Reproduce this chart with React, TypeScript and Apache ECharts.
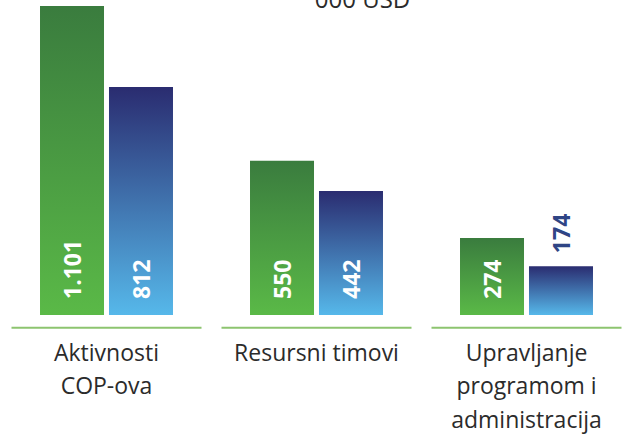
import React, { useEffect, useRef } from "react";
import * as echarts from "echarts";

const categories = ["Aktivnosti\nCOP-ova", "Resursni timovi", "Upravljanje\nprogramom i\nadministracija"];
const greenValues = [1101, 550, 274];
const blueValues = [812, 442, 174];
const unitLabel = "000 USD";

const fmt = (v: number) => v.toLocaleString("de-DE");

export default function App() {
  const ref = useRef<HTMLDivElement>(null);
  useEffect(() => {
    if (!ref.current) return;
    const chart = echarts.init(ref.current, undefined, { renderer: "svg" });
    const greenGrad = new echarts.graphic.LinearGradient(0, 0, 0, 1, [
      { offset: 0, color: "#3a7c3e" },
      { offset: 1, color: "#5ab947" },
    ]);
    const blueGrad = new echarts.graphic.LinearGradient(0, 0, 0, 1, [
      { offset: 0, color: "#2a2c70" },
      { offset: 1, color: "#56b8ea" },
    ]);
    const insideLabel = {
      show: true,
      position: "insideBottom",
      rotate: 90,
      align: "left",
      verticalAlign: "middle",
      distance: 16,
      color: "#ffffff",
      fontFamily: "Open Sans",
      fontWeight: "bold",
      fontSize: 23,
      formatter: (p: any) => fmt(p.value),
    };
    const blueData = blueValues.map((v) => {
      if (v < 250) {
        return {
          value: v,
          label: {
            position: "top",
            rotate: 90,
            align: "left",
            verticalAlign: "middle",
            distance: 13,
            color: "#2f4585",
          },
        };
      }
      return { value: v };
    });
    chart.setOption({
      animation: false,
      grid: { left: 1.5, top: 6, width: 630, height: 309, containLabel: false },
      xAxis: {
        type: "category",
        data: categories,
        axisLine: { show: false },
        axisTick: { show: false },
        axisLabel: {
          interval: 0,
          margin: 20,
          fontFamily: "Open Sans",
          fontSize: 23,
          lineHeight: 33.5,
          color: "#2b2b2b",
        },
      },
      yAxis: { type: "value", min: 0, max: 1101, show: false, splitLine: { show: false } },
      graphic: [
        {
          type: "text",
          x: 362.5,
          y: 10,
          style: {
            text: unitLabel,
            align: "center",
            verticalAlign: "bottom",
            fontFamily: "Open Sans",
            fontSize: 24,
            fill: "#2b2b2b",
          },
        },
      ],
      series: [
        {
          type: "bar",
          data: greenValues,
          barWidth: 64,
          barGap: "7.8%",
          itemStyle: { color: greenGrad },
          label: insideLabel,
        },
        {
          type: "bar",
          data: blueData,
          barWidth: 64,
          itemStyle: { color: blueGrad },
          label: insideLabel,
        },
        {
          type: "custom",
          data: categories.map((_, i) => [i, 0]),
          silent: true,
          renderItem: (params: any, api: any) => {
            const p = api.coord([api.value(0), 0]);
            return {
              type: "line",
              shape: { x1: p[0] - 95, y1: p[1] + 12.7, x2: p[0] + 95, y2: p[1] + 12.7 },
              style: { stroke: "#8dc46f", lineWidth: 2 },
            };
          },
        },
      ],
    });
    return () => chart.dispose();
  }, []);
  return (
    <div
      style={{ position: "absolute", left: 0, top: 0, width: 625, height: 445, overflow: "hidden", background: "#ffffff" }}
    >
      <div ref={ref} style={{ width: 640, height: 445 }} />
    </div>
  );
}
